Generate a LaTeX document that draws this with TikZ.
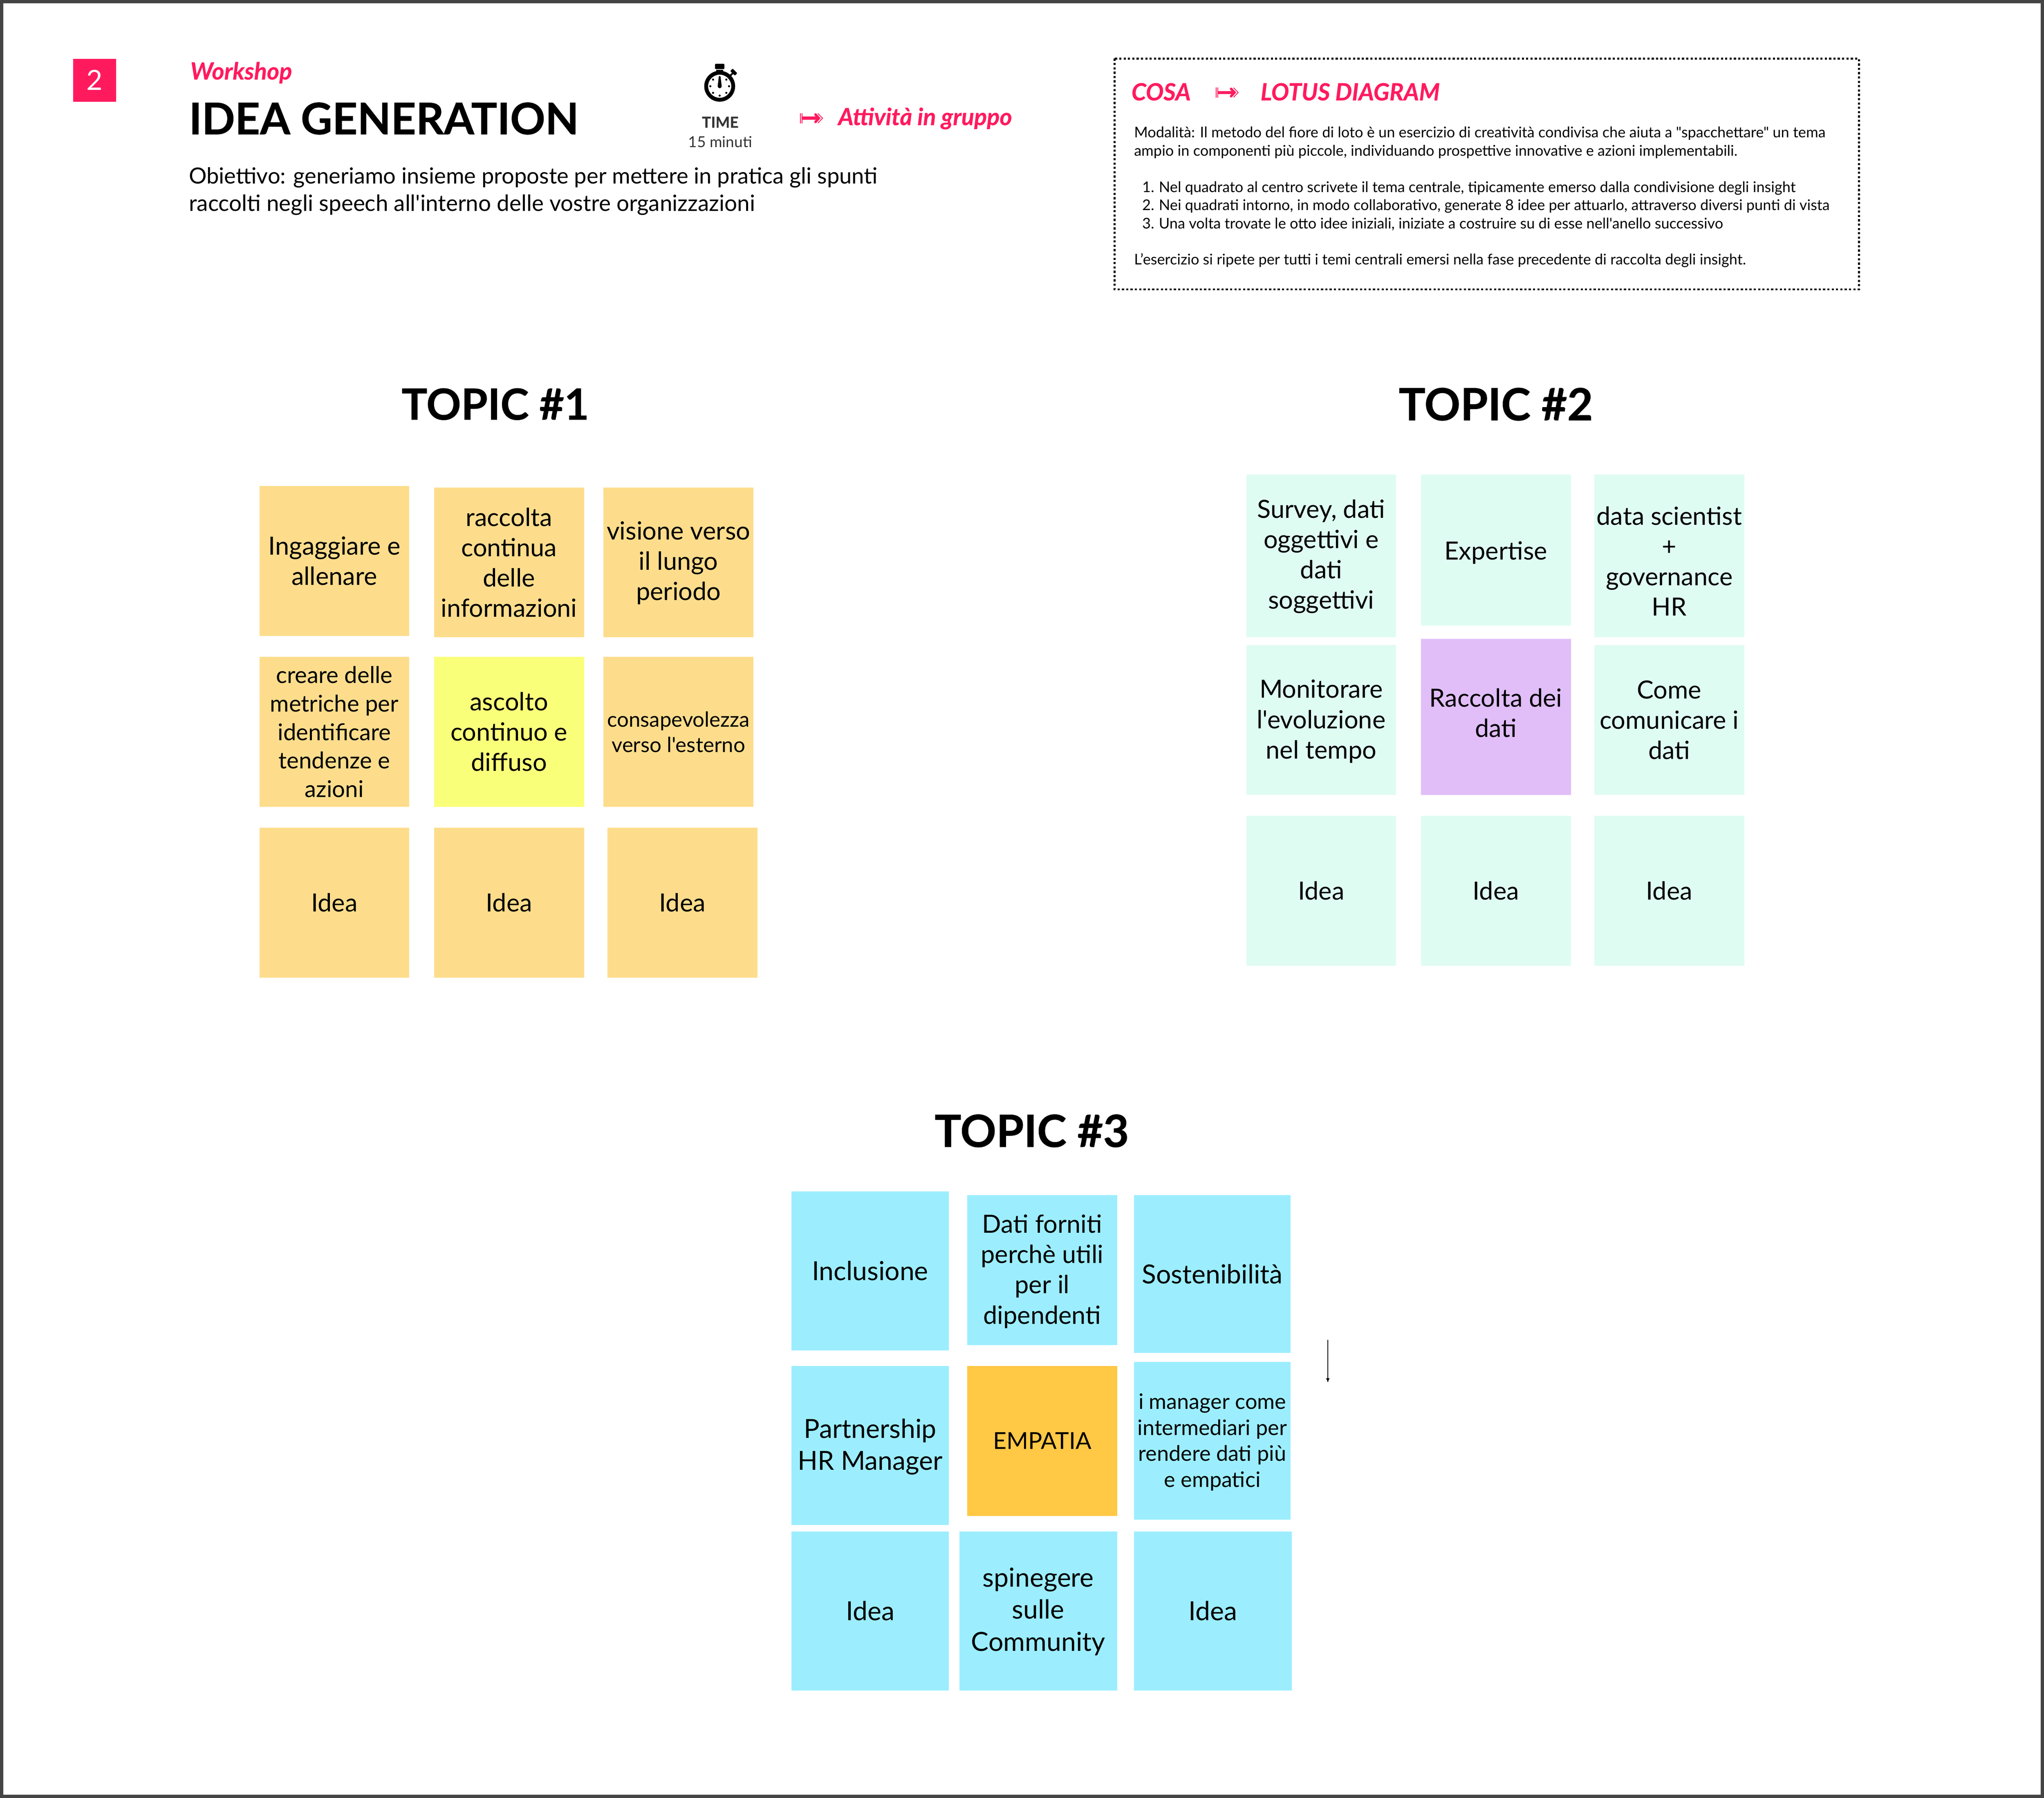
\documentclass[tikz,border=0pt]{standalone}
\usepackage{fontspec}
\usetikzlibrary{arrows.meta}
\newfontfamily\pn{Lato}
\newfontfamily\pnh{Lato Bold}[FakeBold=0.6]
\newfontfamily\pnhi{Lato Bold Italic}[FakeBold=0.5]
\definecolor{hot}{HTML}{FF1A5E}
\definecolor{orng}{HTML}{FDDD8C}
\definecolor{yell}{HTML}{FAFF7A}
\definecolor{mint}{HTML}{DFFCF3}
\definecolor{purp}{HTML}{E1BEF8}
\definecolor{sky}{HTML}{9CEEFF}
\definecolor{amber}{HTML}{FFC845}
\definecolor{frame}{HTML}{444444}
\definecolor{ink}{HTML}{333333}
\newcommand{\fz}[2]{\pn\fontsize{#1pt}{#2pt}\selectfont}
\newcommand{\fh}[2]{\pnh\fontsize{#1pt}{#2pt}\selectfont}
\newcommand{\fhi}[2]{\pnhi\fontsize{#1pt}{#2pt}\selectfont}
\newcommand{\sticky}[9][]{%
  \pgfmathsetmacro{\sw}{(#5-#3)*0.42168}%
  \pgfmathsetmacro{\sh}{(#6-#4)*0.42168}%
  \node[stickybox,fill=#7,minimum width=\sw pt,minimum height=\sh pt] (#2) at ({(#3+#5)/2},{(#4+#6)/2}) {};
  \node[stickytext,big,#1] (#2t) at ({(#3+#5)/2},{(#4+#6)/2+#8}) {#9};}
\newcommand{\chevicon}[1]{%
  \begin{scope}[shift={(#1)},x=0.1pt,y=-0.1pt]
    \fill[hot] (0,-16.3) rectangle (2.7,16.3);
    \fill[hot] (5.5,-16.3) rectangle (8,16.3);
    \fill[hot] (8,-5) rectangle (56,5);
    \draw[hot,line width=0.8pt,line cap=round,line join=miter] (50,-12) -- (61,0) -- (50,12);
    \draw[hot,line width=0.25pt] (58,-15.5) -- (73,0) -- (58,15.5);
  \end{scope}}
\tikzset{
  stickybox/.style={inner sep=0pt,outer sep=0pt},
  stickytext/.style={inner sep=0pt,outer sep=0pt,align=center,text=black},
  big/.style={font=\fz{8.1}{9.8}},
  larger/.style={font=\fz{8.5}{10.4}},
  label/.style={inner sep=0pt,outer sep=0pt,anchor=base west},
  bodyline/.style={label,font=\fz{4.78}{5.8},text=black},
  hotline/.style={label,text=hot,font=\fhi{7.65}{9}},
  topic/.style={inner sep=0pt,outer sep=0pt,anchor=base,font=\fh{14.4}{16},text=black}
}
\begin{document}
\begin{tikzpicture}[x=0.42168pt,y=-0.42168pt]
\useasboundingbox (0,0) rectangle (1568,1379.5);
\fill[white] (0,0) rectangle (1568,1379.5);
\draw[frame,line width=1pt] (1.2,1.2) rectangle (1566.8,1378.3);
% header
\node[inner sep=0pt,minimum size=13.9pt,fill=hot,text=white,font=\fz{9}{10}] (num) at (72.5,61.5) {2};
\node[hotline] (wk) at (146,61) {Workshop};
\node[label,font=\fh{14.07}{16}] (title) at (145,103) {IDEA GENERATION};
\node[label,font=\fz{7.18}{9}] (ob1) at (145,141) {Obiettivo: generiamo insieme proposte per mettere in pratica gli spunti};
\node[label,font=\fz{7.25}{9}] (ob2) at (145,162) {raccolti negli speech all'interno delle vostre organizzazioni};
\begin{scope}[shift={(232.8pt,-27.9pt)},x=0.1pt,y=-0.1pt]
  \fill[black,even odd rule] (0,0) circle[radius=50] (0,0) circle[radius=37.5];
  \fill[black,rounded corners=0.2pt] (-15,-72.5) rectangle (15,-55.5);
  \fill[black] (-11,-53.5) rectangle (11,-47);
  \begin{scope}[rotate=-45]
    \fill[black,rounded corners=0.15pt] (-10.5,-70) rectangle (10.5,-59);
    \fill[black] (-3,-59) rectangle (3,-48);
  \end{scope}
  \fill[black] (-6.5,0) -- (-3,-30) arc[start angle=180,end angle=360,radius=3] -- (6.5,0) arc[start angle=0,end angle=180,radius=6.5] -- cycle;
  \foreach \a in {0,45,90,135,180,225,315} \fill[black] (\a:30.3) circle[radius=3.4];
\end{scope}
\node[inner sep=0pt,anchor=base,text=ink,font=\fh{4.9}{6}] (tm) at (552.5,98) {TIME};
\node[inner sep=0pt,anchor=base,text=ink,font=\fz{4.9}{6}] (mn) at (552.5,113) {15 minuti};
\chevicon{613.7,90.7}
\node[hotline] (att) at (643,96) {Attività in gruppo};
% lotus box
\draw[black,line width=0.6pt,dash pattern=on 0.7pt off 0.7pt] (855,45) rectangle (1426,222);
\node[hotline] (cosa) at (868,77) {COSA};
\chevicon{932.5,71}
\node[hotline] (lotus) at (967,77) {LOTUS DIAGRAM};
\node[bodyline] (b1) at (870,105.5) {Modalità: Il metodo del fiore di loto è un esercizio di creatività condivisa che aiuta a "spacchettare" un tema};
\node[bodyline] (b2) at (870,119.5) {ampio in componenti più piccole, individuando prospettive innovative e azioni implementabili.};
\node[bodyline,anchor=base east] (n1) at (885.5,147.5) {1.};
\node[bodyline] (l1) at (889,147.5) {Nel quadrato al centro scrivete il tema centrale, tipicamente emerso dalla condivisione degli insight};
\node[bodyline,anchor=base east] (n2) at (885.5,161.5) {2.};
\node[bodyline] (l2) at (889,161.5) {Nei quadrati intorno, in modo collaborativo, generate 8 idee per attuarlo, attraverso diversi punti di vista};
\node[bodyline,anchor=base east] (n3) at (885.5,175.5) {3.};
\node[bodyline] (l3) at (889,175.5) {Una volta trovate le otto idee iniziali, iniziate a costruire su di esse nell'anello successivo};
\node[bodyline] (b3) at (870,203) {L’esercizio si ripete per tutti i temi centrali emersi nella fase precedente di raccolta degli insight.};
% topics
\node[topic,font=\fh{13.9}{16}] (t1) at (380,322) {TOPIC \#1};
\node[topic] (t2) at (1147.5,322.5) {TOPIC \#2};
\node[topic] (t3) at (791.5,880) {TOPIC \#3};
% topic 1
\sticky{a1}{199}{373}{314}{488}{orng}{0}{Ingaggiare e\\allenare}
\sticky{a2}{333}{374}{448}{489}{orng}{0}{raccolta\\continua\\delle\\informazioni}
\sticky{a3}{463}{374}{578}{489}{orng}{0.5}{visione verso\\il lungo\\periodo}
\sticky[font=\fz{7.45}{9.2}]{a4}{199}{504}{314}{619}{orng}{0}{creare delle\\metriche per\\identificare\\tendenze e\\azioni}
\sticky{a5}{333}{504}{448}{619}{yell}{0}{ascolto\\continuo e\\diffuso}
\sticky[font=\fz{6.75}{8.2}]{a6}{463}{504}{578}{619}{orng}{0}{consapevolezza\\verso l'esterno}
\sticky{a7}{199}{635}{314}{750}{orng}{0}{Idea}
\sticky{a8}{333}{635}{448}{750}{orng}{0}{Idea}
\sticky{a9}{466}{635}{581}{750}{orng}{0}{Idea}
% topic 2
\sticky{b1s}{956}{364}{1071}{489}{mint}{0.5}{Survey, dati\\oggettivi e\\dati\\soggettivi}
\sticky{b2s}{1090}{364}{1205}{480}{mint}{2}{Expertise}
\sticky{b3s}{1223}{364}{1338}{489}{mint}{4}{data scientist\\+\\governance\\HR}
\sticky{b4s}{956}{495}{1071}{610}{mint}{1}{Monitorare\\l'evoluzione\\nel tempo}
\sticky{b5s}{1090}{490}{1205}{610}{purp}{-3}{Raccolta dei\\dati}
\sticky{b6s}{1223}{495}{1338}{610}{mint}{0}{Come\\comunicare i\\dati}
\sticky{b7s}{956}{626}{1071}{741}{mint}{0}{Idea}
\sticky{b8s}{1090}{626}{1205}{741}{mint}{0}{Idea}
\sticky{b9s}{1223}{626}{1338}{741}{mint}{0}{Idea}
% topic 3
\sticky[larger]{c1}{607}{914}{728}{1036}{sky}{0}{Inclusione}
\sticky{c2}{742}{917}{857}{1032}{sky}{1}{Dati forniti\\perchè utili\\per il\\dipendenti}
\sticky[larger]{c3}{870}{917}{990}{1038}{sky}{0}{Sostenibilità}
\sticky[larger]{c4}{607}{1048}{728}{1170}{sky}{1}{Partnership\\HR Manager}
\sticky[font=\fz{7.55}{9.8}]{c5}{742}{1048}{857}{1163}{amber}{0}{EMPATIA}
\sticky[font=\fz{6.9}{8.4}]{c6}{870}{1045}{990}{1166}{sky}{1}{i manager come\\intermediari per\\rendere dati più\\e empatici}
\sticky[larger]{c7}{607}{1175}{728}{1297}{sky}{0}{Idea}
\sticky[larger]{c8}{736}{1175}{857}{1297}{sky}{0.5}{spinegere\\sulle\\Community}
\sticky[larger]{c9}{870}{1175}{991}{1297}{sky}{0}{Idea}
% small arrow
\coordinate (aS) at (1018.6,1028);
\coordinate (aE) at (1018.6,1061);
\draw[black,line width=0.35pt,-{Latex[length=1.5pt,width=1.2pt]}] (aS) -- (aE);
\end{tikzpicture}
\end{document}
